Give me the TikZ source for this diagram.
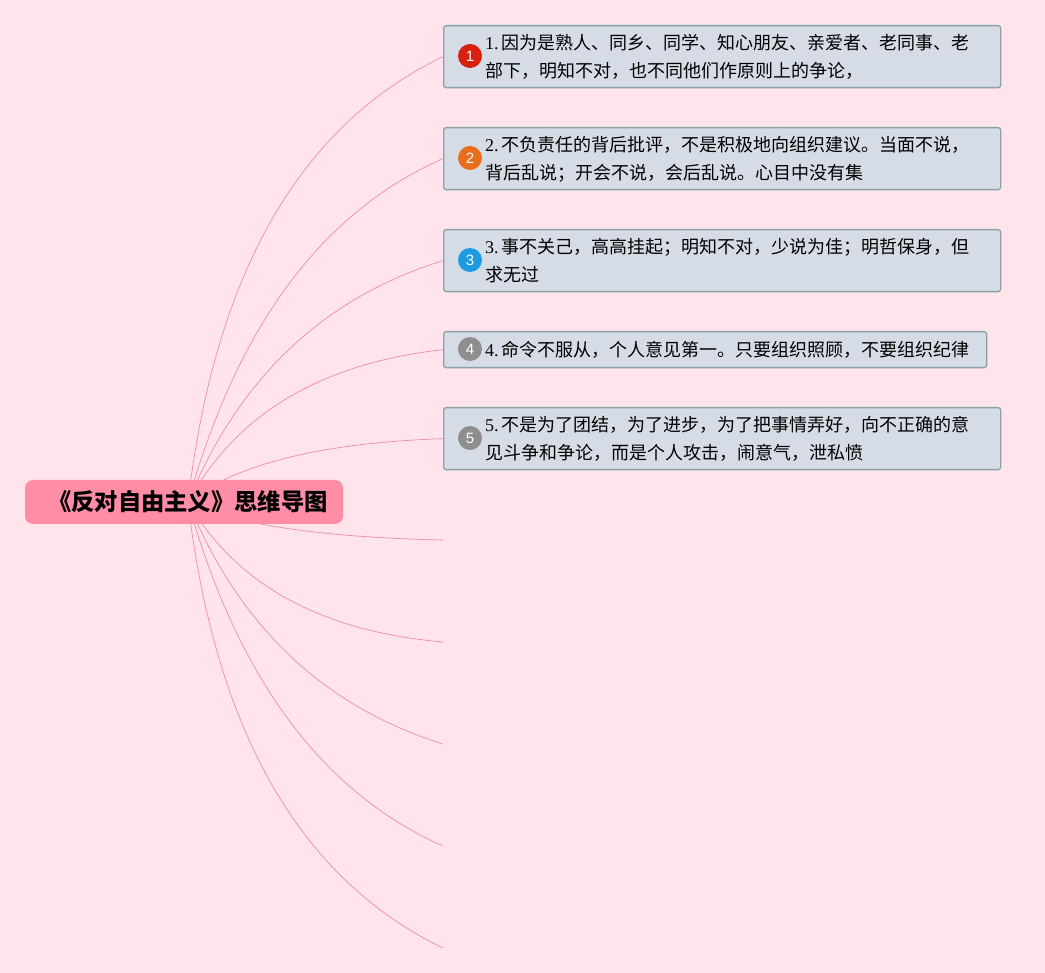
\documentclass[tikz,border=0pt]{standalone}
\usepackage{fontspec}
\setmainfont{Noto Sans CJK SC}
\newfontfamily\latfont{Liberation Serif}
\newfontfamily\markfont{Liberation Sans}
\usetikzlibrary{calc}
\definecolor{bgc}{HTML}{FFE4EC}
\definecolor{rootc}{HTML}{FF8DA6}
\definecolor{linec}{HTML}{EE8CAA}
\definecolor{boxc}{HTML}{D5DCE6}
\definecolor{boxline}{HTML}{8AA2A6}
\definecolor{mred}{HTML}{D8200E}
\definecolor{morange}{HTML}{E86E1C}
\definecolor{mblue}{HTML}{1E9AE0}
\definecolor{mgray}{HTML}{8E8E8E}
\newcommand\qcurve[3]{\draw[conn] (#1) .. controls ($(#1)!0.6667!(#2)$) and ($(#3)!0.6667!(#2)$) .. (#3);}
\begin{document}
\begin{tikzpicture}[x=1pt,y=-1pt,
  conn/.style={draw=linec, line width=0.7pt},
  topicbox/.style={draw=boxline, fill=boxc, line width=1.3pt, rounded corners=2.5pt, anchor=north west, inner sep=0pt},
  topictext/.style={anchor=west, align=left, inner sep=0pt, font=\fontsize{18}{28}\selectfont},
  marker/.style={circle, inner sep=0pt, minimum size=24pt, text=white, font=\markfont\fontsize{15}{15}\selectfont},
  rootbox/.style={fill=rootc, rounded corners=8pt, minimum width=318pt, minimum height=44pt, inner sep=0pt, font=\bfseries\fontsize{23.3}{25}\selectfont}]
\useasboundingbox[fill=bgc] (0,0) rectangle (1045,973);

% topic boxes
\node[topicbox, minimum width=557pt, minimum height=62pt] (b1) at (443,25) {};
\node[topicbox, minimum width=557pt, minimum height=62pt] (b2) at (443,127) {};
\node[topicbox, minimum width=557pt, minimum height=62pt] (b3) at (443,229) {};
\node[topicbox, minimum width=543pt, minimum height=36pt] (b4) at (443,331) {};
\node[topicbox, minimum width=557pt, minimum height=62pt] (b5) at (443,407) {};

% markers
\node[marker, fill=mred] (m1) at (470,56) {1};
\node[marker, fill=morange] (m2) at (470,158) {2};
\node[marker, fill=mblue] (m3) at (470,260) {3};
\node[marker, fill=mgray] (m4) at (470,349) {4};
\node[marker, fill=mgray] (m5) at (470,438) {5};

% texts
\node[topictext] (t1) at (485,57) {{\latfont 1.}\,因为是熟人、同乡、同学、知心朋友、亲爱者、老同事、老\\部下，明知不对，也不同他们作原则上的争论，};
\node[topictext] (t2) at (485,159) {{\latfont 2.}\,不负责任的背后批评，不是积极地向组织建议。当面不说，\\背后乱说；开会不说，会后乱说。心目中没有集};
\node[topictext] (t3) at (485,261) {{\latfont 3.}\,事不关己，高高挂起；明知不对，少说为佳；明哲保身，但\\求无过};
\node[topictext] (t4) at (485,350) {{\latfont 4.}\,命令不服从，个人意见第一。只要组织照顾，不要组织纪律};
\node[topictext] (t5) at (485,439) {{\latfont 5.}\,不是为了团结，为了进步，为了把事情弄好，向不正确的意\\见斗争和争论，而是个人攻击，闹意气，泄私愤};

% origin, control points and free ends
\coordinate (o) at (188,502);
\coordinate (c1) at (228,160);
\coordinate (c2) at (262,238);
\coordinate (c3) at (264,316);
\coordinate (c4) at (260,370);
\coordinate (c5) at (260,445);
\coordinate (c6) at (260,536);
\coordinate (c7) at (260,626);
\coordinate (c8) at (264,688);
\coordinate (c9) at (262,766);
\coordinate (c10) at (228,844);
\coordinate (e6) at (443,540);
\coordinate (e7) at (443,642);
\coordinate (e8) at (443,744);
\coordinate (e9) at (443,846);
\coordinate (e10) at (443,948);

% connectors
\qcurve{o}{c1}{b1.west}
\qcurve{o}{c2}{b2.west}
\qcurve{o}{c3}{b3.west}
\qcurve{o}{c4}{b4.west}
\qcurve{o}{c5}{b5.west}
\qcurve{o}{c6}{e6}
\qcurve{o}{c7}{e7}
\qcurve{o}{c8}{e8}
\qcurve{o}{c9}{e9}
\qcurve{o}{c10}{e10}

% root
\node[rootbox] (root) at (184,502) {\hspace*{8pt}《反对自由主义》思维导图};
\end{tikzpicture}
\end{document}
